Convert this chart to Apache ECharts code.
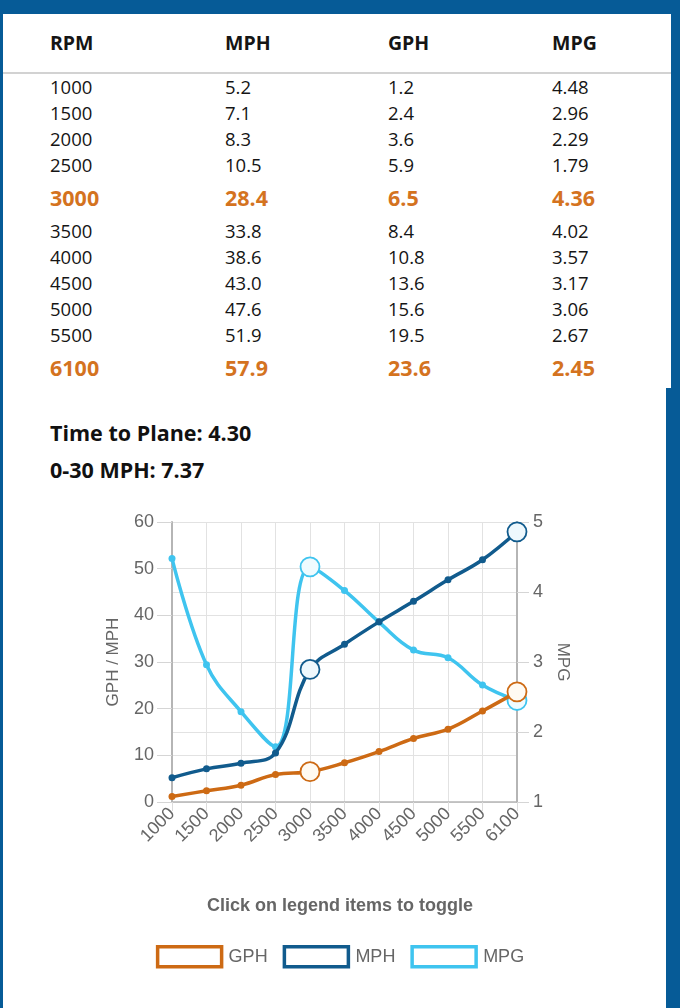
<!DOCTYPE html>
<html>
<head>
<meta charset="utf-8">
<script src="https://cdn.jsdelivr.net/npm/echarts@6/dist/echarts.min.js"></script>
<style>
  body { margin: 0; width: 680px; height: 1008px; overflow: hidden; position: relative;
         background: #065b97; font-family: 'Open Sans', sans-serif; color: #151515; }
  #tbl { position: absolute; left: 3px; top: 14px; width: 668px; height: 374px; background: #fff; }
  #panel { position: absolute; left: 3px; top: 388px; width: 663px; height: 620px; background: #fff; }
  .row { position: relative; height: 26px; line-height: 26px; font-size: 18.5px; }
  .row span { position: absolute; top: 0; }
  .row.head { height: 58px; line-height: 58px; font-weight: bold; font-size: 19.5px; border-bottom: 2px solid #d2d2d2; }
  .row.hot { height: 40px; line-height: 40px; font-weight: bold; font-size: 21.5px; color: #d4731f; }
  .stat { position: absolute; left: 50px; font-weight: bold; font-size: 21.5px; color: #111; }
  #chart { position: absolute; left: 0; top: 480px; width: 680px; height: 528px; }
</style>
</head>
<body>
<div id="tbl"></div>
<div id="panel"></div>
<div class="stat" id="plane" style="top:418px"></div>
<div class="stat" id="zero30" style="top:455px"></div>
<div id="chart"></div>
<script>
  var headers = ['RPM', 'MPH', 'GPH', 'MPG'];
  var rpm = ['1000', '1500', '2000', '2500', '3000', '3500', '4000', '4500', '5000', '5500', '6100'];
  var mph = ['5.2', '7.1', '8.3', '10.5', '28.4', '33.8', '38.6', '43.0', '47.6', '51.9', '57.9'];
  var gph = ['1.2', '2.4', '3.6', '5.9', '6.5', '8.4', '10.8', '13.6', '15.6', '19.5', '23.6'];
  var mpg = ['4.48', '2.96', '2.29', '1.79', '4.36', '4.02', '3.57', '3.17', '3.06', '2.67', '2.45'];
  var highlightRpm = ['3000', '6100']; // bold rows in the table, big circles in the chart
  var timeToPlane = '4.30';
  var zeroTo30 = '7.37';
  var leftTicks = [0, 10, 20, 30, 40, 50, 60];
  var rightTicks = [1, 2, 3, 4, 5];

  var colX = [47, 222, 385, 549];

  // table
  var tbl = document.getElementById('tbl');
  function addRow(cells, cls) {
    var row = document.createElement('div');
    row.className = 'row ' + (cls || '');
    cells.forEach(function (t, i) {
      var s = document.createElement('span');
      s.style.left = colX[i] + 'px';
      s.textContent = t;
      row.appendChild(s);
    });
    tbl.appendChild(row);
  }
  addRow(headers, 'head');
  rpm.forEach(function (r, i) {
    addRow([r, mph[i], gph[i], mpg[i]], highlightRpm.indexOf(r) >= 0 ? 'hot' : '');
  });
  document.getElementById('plane').textContent = 'Time to Plane: ' + timeToPlane;
  document.getElementById('zero30').textContent = '0-30 MPH: ' + zeroTo30;

  // chart
  var myChart = echarts.init(document.getElementById('chart'));
  var colors = { GPH: '#cd6a14', MPH: '#115b8d', MPG: '#3fc4ef' };
  var fills = { GPH: '#fffaf2', MPH: '#eef8fd', MPG: '#effbff' };
  var font = "'Liberation Sans', Arial, sans-serif";

  function pointData(values, name) {
    return values.map(function (v, i) {
      if (highlightRpm.indexOf(rpm[i]) < 0) return +v;
      return {
        value: +v,
        symbolSize: 19,
        itemStyle: { color: fills[name], borderColor: colors[name], borderWidth: 1.8 }
      };
    });
  }
  function lineSeries(name, values, yIndex, z) {
    return {
      name: name,
      type: 'line',
      yAxisIndex: yIndex,
      z: z,
      smooth: 0.4,
      symbol: 'circle',
      symbolSize: 7,
      lineStyle: { color: colors[name], width: 3.5 },
      itemStyle: { color: colors[name] },
      data: pointData(values, name)
    };
  }
  var axisGray = '#666';
  var gridLine = { lineStyle: { color: '#e2e2e2', width: 1 } };

  var option = {
    animation: false,
    textStyle: { fontFamily: font },
    title: {
      text: 'Click on legend items to toggle',
      left: 'center',
      top: 412,
      textStyle: { fontFamily: font, fontSize: 18, fontWeight: 'bold', color: '#666' }
    },
    legend: {
      top: 460,
      left: 'center',
      icon: 'rect',
      itemWidth: 64,
      itemHeight: 20,
      itemGap: 15,
      textStyle: { fontFamily: font, fontSize: 18, color: '#666', padding: [0, 0, 0, 2] },
      data: ['GPH', 'MPH', 'MPG'].map(function (n) {
        return { name: n, itemStyle: { color: '#fff', borderColor: colors[n], borderWidth: 3.5 } };
      })
    },
    grid: { left: 172, right: 163, top: 42, height: 280 },
    xAxis: {
      type: 'category',
      boundaryGap: false,
      data: rpm,
      axisLine: { lineStyle: { color: '#b5b5b5', width: 1.5 } },
      axisTick: { show: true, length: 9, lineStyle: { color: '#dcdcdc' } },
      axisLabel: { rotate: 45, color: axisGray, fontSize: 18, margin: 9, interval: 0 },
      splitLine: { show: true, lineStyle: gridLine.lineStyle }
    },
    yAxis: [{
      type: 'value',
      min: leftTicks[0],
      max: leftTicks[leftTicks.length - 1],
      interval: leftTicks[1] - leftTicks[0],
      name: 'GPH / MPH',
      nameLocation: 'middle',
      nameGap: 50,
      nameTextStyle: { color: axisGray, fontSize: 17 },
      axisLine: { show: true, lineStyle: { color: '#b5b5b5', width: 2 } },
      axisTick: { show: true, length: 15, lineStyle: { color: '#d5d5d5' } },
      axisLabel: { color: axisGray, fontSize: 18, margin: 18 },
      splitLine: gridLine
    }, {
      type: 'value',
      position: 'right',
      min: rightTicks[0],
      max: rightTicks[rightTicks.length - 1],
      interval: rightTicks[1] - rightTicks[0],
      name: 'MPG',
      nameLocation: 'middle',
      nameRotate: -90,
      nameGap: 36,
      nameTextStyle: { color: axisGray, fontSize: 17 },
      axisLine: { show: true, lineStyle: { color: '#b5b5b5', width: 2 } },
      axisTick: { show: true, length: 12, lineStyle: { color: '#d5d5d5' } },
      axisLabel: { color: axisGray, fontSize: 18, margin: 16 },
      splitLine: gridLine
    }],
    series: [
      lineSeries('MPG', mpg, 1, 2),
      lineSeries('MPH', mph, 0, 3),
      lineSeries('GPH', gph, 0, 4)
    ]
  };
  myChart.setOption(option);
</script>
</body>
</html>
